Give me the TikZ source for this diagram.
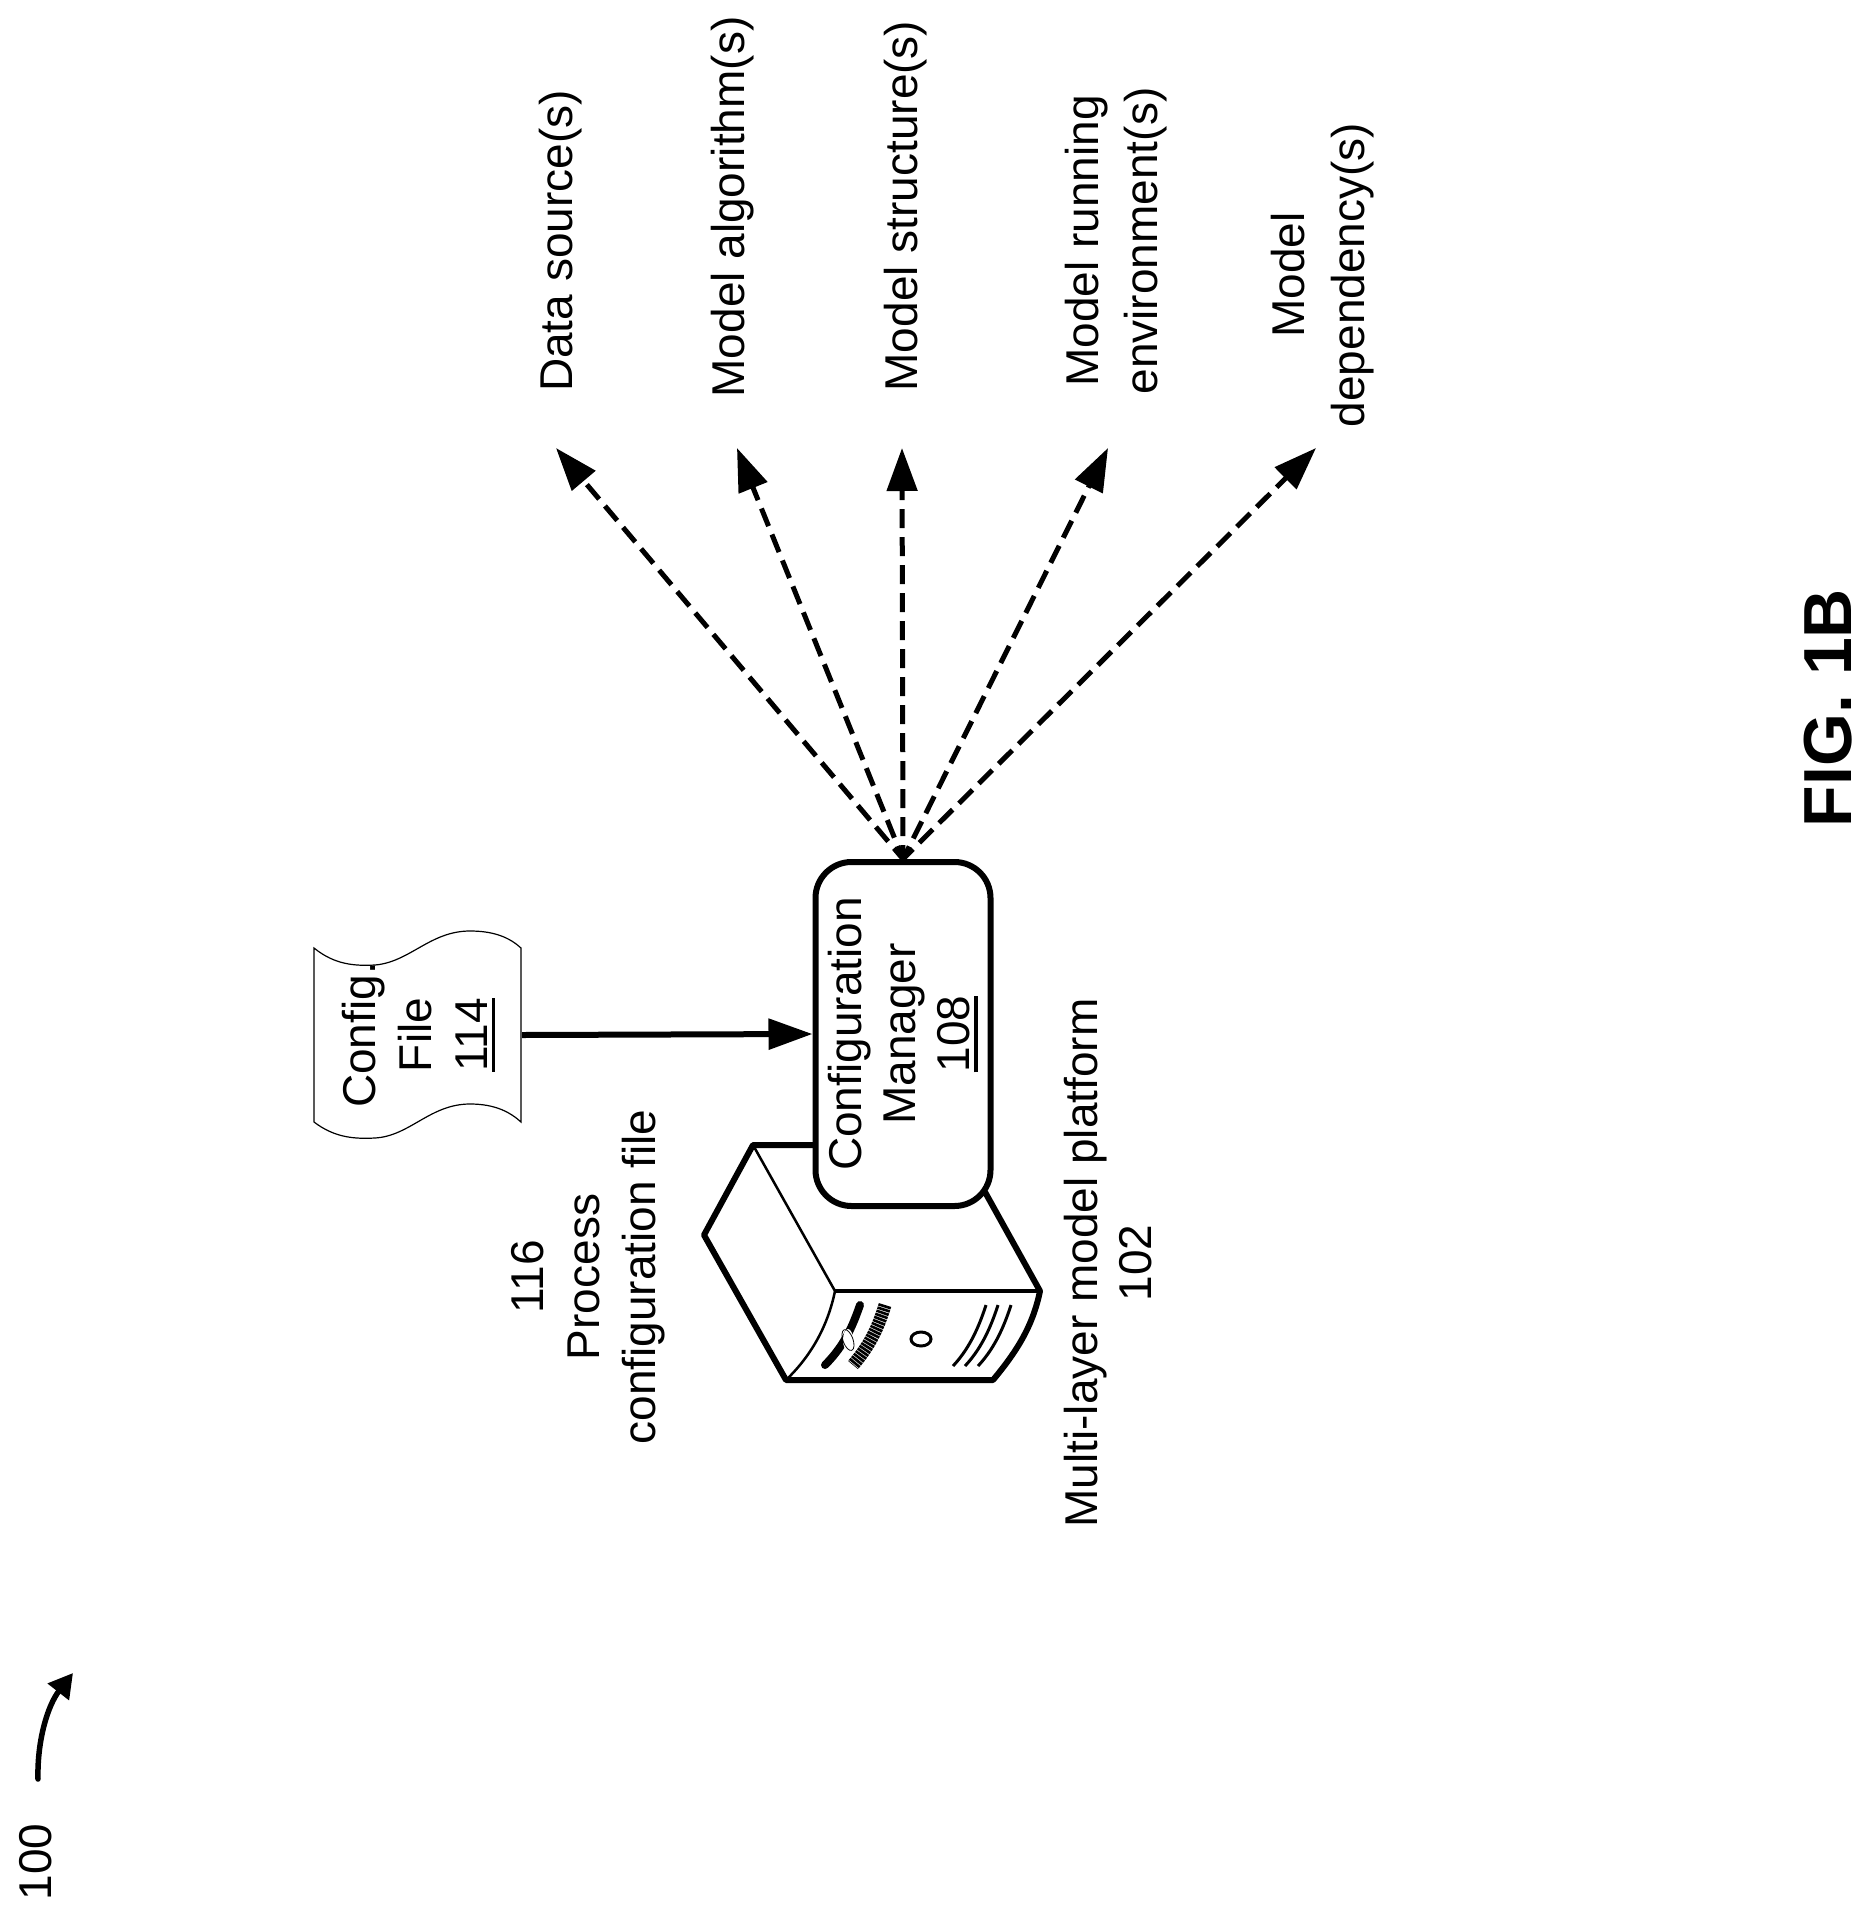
\documentclass[tikz,border=0pt]{standalone}
\usepackage{fontspec}
\setmainfont{Liberation Sans}
\usetikzlibrary{arrows.meta}
\newcommand{\ulnum}[1]{\setbox0=\hbox{#1}\leavevmode\copy0\kern-\wd0\rule[-8pt]{\wd0}{3.5pt}}
\tikzset{
  lbl/.style={rotate=90,align=center,inner sep=0pt,font=\fontsize{46}{56}\selectfont},
  wide lbl/.style={lbl,font=\fontsize{46}{60}\selectfont},
  tight lbl/.style={lbl,font=\fontsize{46}{54}\selectfont},
  big/.style={line width=6pt,line join=round},
  thick arrow/.style={line width=6pt,-{Stealth[length=44pt,width=30pt,inset=0pt]}},
  dash arrow/.style={line width=5pt,dash pattern=on 19pt off 9pt,dash phase=5pt,-{Stealth[length=43pt,width=30pt,inset=0pt]}},
}
\begin{document}
\begin{tikzpicture}[x=1pt,y=-1pt]
\useasboundingbox (0,0) rectangle (1875,1916);
% server
\draw[big] (985,1192) -- (1040,1291) .. controls (1033,1325) and (1018,1350) .. (993,1380) -- (786,1380) -- (704,1235) -- (753,1145) -- (815,1145);
\draw[line width=2.5pt] (753,1145) -- (835,1291);
\draw[line width=3.5pt] (835,1291) -- (1040,1291);
\draw[line width=2.5pt] (835,1291) .. controls (828,1325) and (812,1355) .. (786,1380);
\draw[line width=8pt,line cap=round] (860,1305) .. controls (853,1325) and (845,1345) .. (825,1365);
\fill[white] (848,1340) ellipse (5pt and 11pt);
\draw[line width=.8pt,rotate around={20:(848,1340)}] (848,1340) ellipse (5pt and 11pt);
\draw[line width=13pt,dash pattern=on 2.6pt off .8pt] (885,1305) .. controls (878,1328) and (870,1345) .. (853,1365);
\draw[line width=3pt] (921,1339) ellipse (10pt and 7pt);
\draw[line width=3pt] (986,1305) .. controls (978,1330) and (968,1350) .. (953,1366);
\draw[line width=3pt] (998,1305) .. controls (990,1330) and (980,1350) .. (965,1366);
\draw[line width=3pt] (1011,1305) .. controls (1003,1330) and (993,1350) .. (978,1366);
% manager
\node[tight lbl,draw,fill=white,line width=6pt,rounded corners=36pt,minimum width=344pt,minimum height=175pt] (box) at (903,1034) {Configuration\\Manager\\\ulnum{108}};
% config file
\draw[line width=1.2pt] (314,948) .. controls (335,965) and (355,966) .. (375,965) .. controls (410,962) and (430,931) .. (470,931) .. controls (495,931) and (510,938) .. (521,948) -- (521,1122) .. controls (510,1112) and (495,1104) .. (470,1104) .. controls (430,1104) and (410,1136) .. (375,1138) .. controls (355,1139) and (335,1138) .. (314,1122) -- cycle;
\node[lbl,minimum width=174pt,minimum height=207pt] (cfg) at (418.5,1035) {Config.\\File\\\ulnum{114}};
\draw[thick arrow] (cfg.south) -- (box.north);
% labels
\node[lbl] (l1) at (561,241) {Data source(s)};
\node[lbl] (l2) at (733,207) {Model algorithm(s)};
\node[lbl] (l3) at (906,206) {Model structure(s)};
\node[lbl,font=\fontsize{46}{59}\selectfont] (l4) at (1116,241) {Model running\\environment(s)};
\node[wide lbl] (l5) at (1323,275) {Model\\dependency(s)};
\node[lbl] (proc) at (588,1277) {116\\Process\\configuration file};
\node[tight lbl] (plat) at (1108,1263) {Multi-layer model platform\\102};
\coordinate (t1) at (556,448);
\coordinate (t2) at (737,448);
\coordinate (t3) at (902,448);
\coordinate (t4) at (1108,448);
\coordinate (t5) at (1316,448);
\foreach \t in {t1,t2,t3,t4,t5} \draw[dash arrow] (box.east) -- (\t);
% ref
\node[lbl] (ref) at (36,1862) {100};
\coordinate (rs) at (38,1779);
\coordinate (re) at (73,1673);
\draw[line width=5.5pt,line cap=round,-{Stealth[length=24pt,width=26pt,inset=0pt]}] (rs) .. controls (37,1740) and (48,1705) .. (re);
\node[rotate=90,inner sep=0pt,font=\fontsize{68}{80}\selectfont\bfseries] (fig) at (1828,708) {FIG. 1B};
\end{tikzpicture}
\end{document}
